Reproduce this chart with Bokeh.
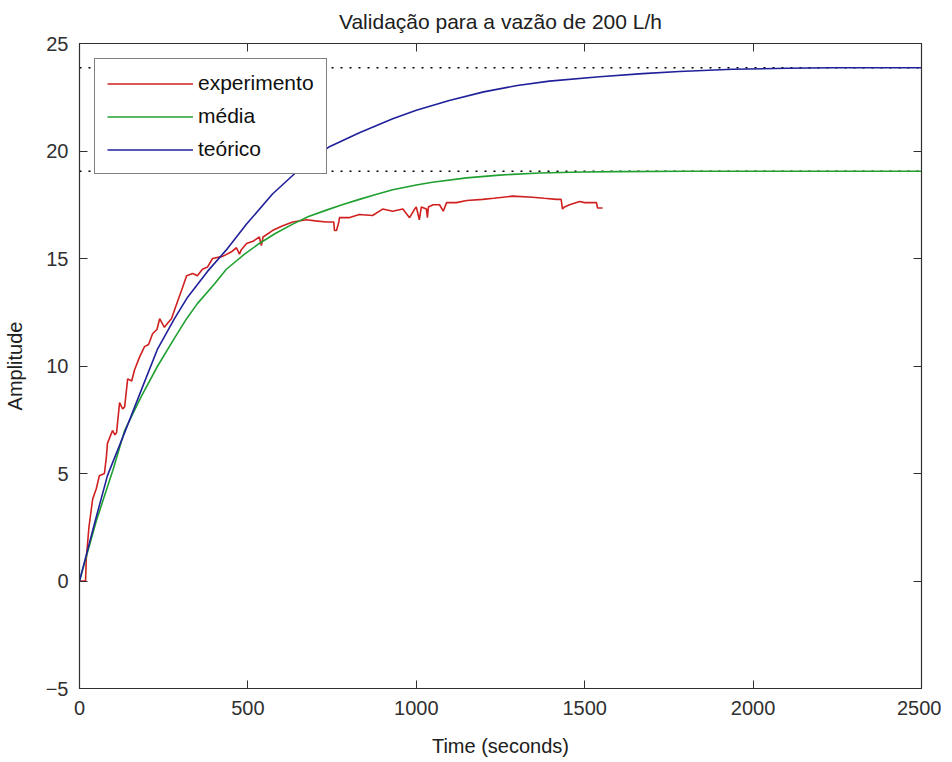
from bokeh.plotting import figure
from bokeh.models import (LinearAxis, Range1d, Legend, LegendItem, FixedTicker,
                          CustomJSTickFormatter)
from bokeh.embed import file_html
from bokeh.resources import INLINE

# ---------------- data ----------------
title_text = "Validação para a vazão de 200 L/h"
x_label = "Time (seconds)"
y_label = "Amplitude"
x_ticks = [0, 500, 1000, 1500, 2000, 2500]
y_ticks = [-5, 0, 5, 10, 15, 20, 25]

exp_t = [0, 18, 20, 28, 39, 50, 59, 74, 80, 83,
         98, 105, 110, 119, 128, 134, 143, 155, 163, 178,
         193, 205, 217, 230, 238, 252, 262, 273, 291, 305,
         318, 336, 350, 365, 380, 395, 425, 450, 466, 475,
         480, 496, 515, 534, 540, 545, 573, 600, 633, 674,
         700, 733, 755, 757, 763, 770, 772, 800, 831, 870,
         900, 930, 960, 980, 995, 1000, 1009, 1015, 1030, 1033,
         1036, 1050, 1069, 1080, 1090, 1119, 1150, 1197, 1230, 1286,
         1345, 1380, 1416, 1430, 1434, 1440, 1455, 1485, 1500, 1529,
         1535, 1538, 1553]
exp_y = [0, 0, 1.0, 2.5, 3.8, 4.3, 4.9, 5.0, 5.8, 6.4,
         7.0, 6.8, 6.9, 8.3, 8.0, 8.1, 9.4, 9.3, 9.8, 10.4,
         10.9, 11.0, 11.5, 11.7, 12.2, 11.8, 12.0, 12.2, 13.0, 13.6,
         14.2, 14.3, 14.2, 14.5, 14.6, 15.0, 15.1, 15.3, 15.5, 15.2,
         15.4, 15.7, 15.8, 16.0, 15.6, 16.0, 16.3, 16.5, 16.7, 16.8,
         16.75, 16.7, 16.7, 16.3, 16.3, 16.7, 16.9, 16.9, 17.05, 17.0,
         17.3, 17.2, 17.3, 16.9, 17.3, 17.4, 16.8, 17.4, 17.3, 16.9,
         17.4, 17.5, 17.5, 17.2, 17.6, 17.6, 17.7, 17.75, 17.8, 17.9,
         17.85, 17.8, 17.75, 17.75, 17.3, 17.4, 17.5, 17.65, 17.6, 17.6,
         17.6, 17.35, 17.35]

mean_t = [0, 50, 100, 134, 184, 232, 282, 318, 350, 400,
          436, 490, 534, 580, 633, 680, 733, 780, 831, 880,
          930, 1000, 1048, 1149, 1247, 1366, 1494, 1600, 1800, 2000,
          2500]
mean_y = [0, 2.8, 5.2, 7.0, 8.6, 10.0, 11.3, 12.2, 12.9, 13.8,
          14.5, 15.2, 15.7, 16.15, 16.6, 16.95, 17.25, 17.5, 17.75, 17.98,
          18.2, 18.42, 18.55, 18.75, 18.88, 18.98, 19.02, 19.04, 19.06, 19.06,
          19.06]

theo_t = [0, 15, 45, 83, 134, 184, 232, 282, 321, 380,
          436, 496, 573, 653, 742, 831, 930, 1000, 1098, 1200,
          1300, 1395, 1544, 1672, 1781, 1939, 2100, 2236, 2500]
theo_y = [0, 0.9, 2.7, 4.9, 6.9, 8.9, 10.8, 12.2, 13.2, 14.4,
          15.4, 16.6, 18.0, 19.15, 20.2, 20.85, 21.5, 21.9, 22.35, 22.75,
          23.05, 23.25, 23.45, 23.6, 23.7, 23.8, 23.85, 23.87, 23.87]

ref_levels = [23.87, 19.06]
ref_x0 = [0, 0]
ref_x1 = [2500, 2500]

series_names = ["experimento", "média", "teórico"]
series_colors = ["#d02020", "#20a030", "#20209a"]

# ---------------- figure ----------------
FONT = "Liberation Sans"
AX = "#303030"

p = figure(frame_width=842, frame_height=645,
           x_range=Range1d(0, 2500), y_range=Range1d(-5, 25),
           output_backend="svg", toolbar_location=None,
           min_border_left=72, min_border_top=43,
           min_border_right=20, min_border_bottom=62)

p.title.text = title_text
p.title.align = "center"
p.title.vertical_align = "top"
p.title.text_font = FONT
p.title.text_font_size = "21px"
p.title.text_font_style = "normal"
p.title.text_color = "#202020"
p.title.standoff = 18

p.xgrid.visible = False
p.ygrid.visible = False
p.outline_line_color = AX
p.outline_line_width = 1.2

for ax, ticks in ((p.xaxis[0], x_ticks), (p.yaxis[0], y_ticks)):
    ax.ticker = FixedTicker(ticks=ticks)
    ax.major_tick_in = 8
    ax.major_tick_out = 0
    ax.minor_tick_in = 0
    ax.minor_tick_out = 0
    ax.axis_line_color = AX
    ax.major_tick_line_color = AX
    ax.major_label_text_font = FONT
    ax.major_label_text_font_size = "20px"
    ax.major_label_text_color = "#303030"
    ax.axis_label_text_font = FONT
    ax.axis_label_text_font_size = "20px"
    ax.axis_label_text_font_style = "normal"
    ax.axis_label_text_color = "#202020"

p.xaxis.axis_label = x_label
p.yaxis.axis_label = y_label
p.xaxis.major_label_standoff = 12
p.yaxis.major_label_standoff = 11
p.xaxis.axis_label_standoff = 17
p.yaxis.axis_label_standoff = 17

for side, ticks in (("above", x_ticks), ("right", y_ticks)):
    a = LinearAxis(ticker=FixedTicker(ticks=ticks),
                   formatter=CustomJSTickFormatter(code="return ''"),
                   major_label_standoff=0,
                   major_tick_in=8, major_tick_out=0,
                   minor_tick_in=0, minor_tick_out=0,
                   axis_line_color=AX, major_tick_line_color=AX)
    p.add_layout(a, side)

# reference dotted lines
p.segment(x0=ref_x0, y0=ref_levels, x1=ref_x1, y1=ref_levels,
          line_color="black", line_width=1.5, line_dash="2 7")

r_exp = p.line(exp_t, exp_y, line_color=series_colors[0], line_width=1.6)
r_mean = p.line(mean_t, mean_y, line_color=series_colors[1], line_width=1.6)
r_theo = p.line(theo_t, theo_y, line_color=series_colors[2], line_width=1.6)

legend = Legend(items=[LegendItem(label=series_names[0], renderers=[r_exp]),
                       LegendItem(label=series_names[1], renderers=[r_mean]),
                       LegendItem(label=series_names[2], renderers=[r_theo])],
                location="top_left", margin=15, padding=12, spacing=9,
                glyph_width=86, glyph_height=23, label_height=23,
                label_standoff=5,
                label_text_font=FONT, label_text_font_size="21px",
                label_text_color="#101010",
                border_line_color="black", border_line_width=1.5,
                background_fill_color="white", background_fill_alpha=1.0)
p.add_layout(legend)

open("out.html", "w").write(file_html(p, INLINE))
